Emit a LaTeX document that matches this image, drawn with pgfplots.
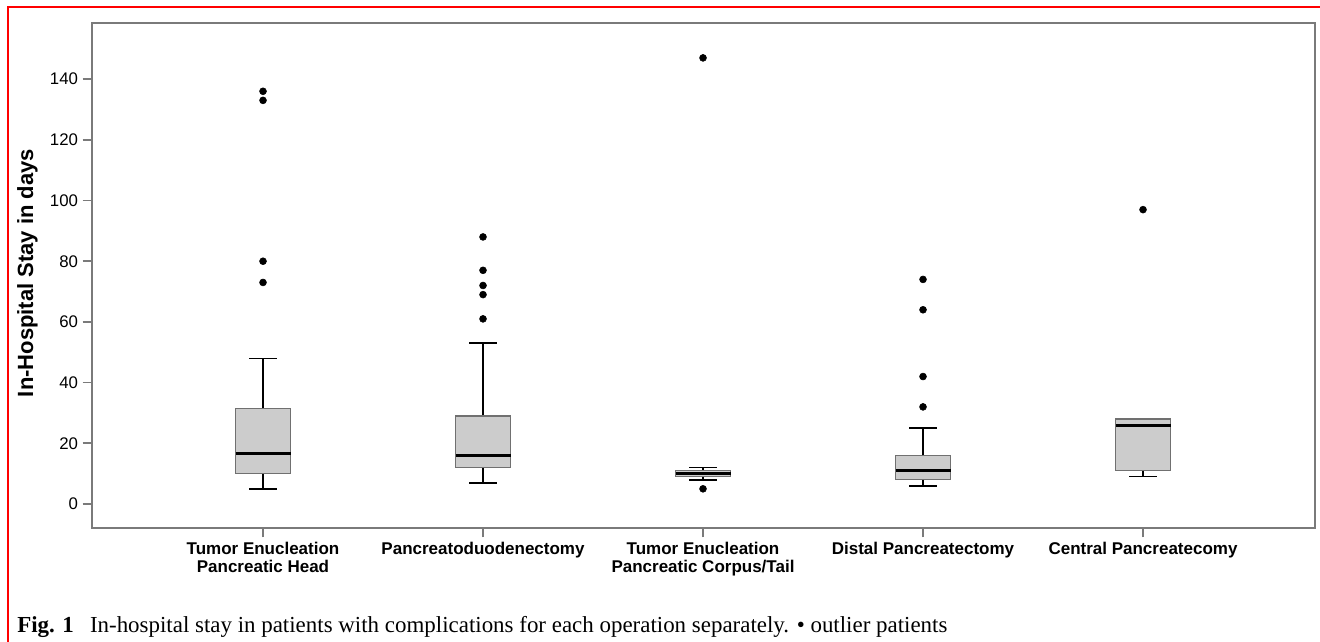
\documentclass[border=0pt]{standalone}
\usepackage{pgfplots}
\pgfplotsset{compat=1.18}
\usepgfplotslibrary{statistics}
\usepackage{fontspec}
\setmainfont{Liberation Serif}
\setsansfont{Liberation Sans}
\definecolor{boxfill}{HTML}{CCCCCC}
\definecolor{boxedge}{HTML}{707070}
\definecolor{axgray}{HTML}{7A7A7A}
\begin{document}
\begin{tikzpicture}
\path[use as bounding box] (0,0) rectangle (990pt,481.5pt);
\fill[white] (0,0) rectangle (990pt,481.5pt);
\draw[red, line width=1.6pt] (6pt,0) -- (6pt,476.25pt) -- (990pt,476.25pt);
\begin{axis}[
  at={(69pt,85.5pt)}, anchor=south west,
  scale only axis, width=917.25pt, height=378.75pt,
  xmin=-0.7773, xmax=4.7818,
  ymin=-7.91, ymax=158.5,
  axis line style={axgray, line width=1.5pt},
  xtick={0,1,2,3,4},
  xticklabels={{Tumor Enucleation\\Pancreatic Head},{Pancreatoduodenectomy},{Tumor Enucleation\\Pancreatic Corpus/Tail},{Distal Pancreatectomy},{Central Pancreatecomy}},
  xticklabel style={align=center, font=\sffamily\bfseries\fontsize{12.75}{13.5}\selectfont},
  ytick={0,20,40,60,80,100,120,140},
  yticklabel style={font=\sffamily\fontsize{12.6}{14}\selectfont},
  /pgf/number format/assume math mode=true,
  tick align=outside,
  xtick pos=bottom, ytick pos=left,
  major tick length=7pt,
  tick style={axgray, line width=1.2pt},
  boxplot/draw direction=y,
  boxplot/every box/.style={draw=boxedge, fill=boxfill, line width=1.1pt},
  boxplot/every whisker/.style={black, line width=1.2pt},
  boxplot/every median/.style={black, line width=2.2pt},
]
\addplot[mark=*, mark size=2.6pt, black, mark options={fill=black},
  boxplot prepared={draw position=0, lower whisker=5, lower quartile=10, median=16.5, upper quartile=31.5, upper whisker=48, box extend=0.25, whisker extend=0.125}]
  coordinates {(0,136) (0,133) (0,80) (0,73)};
\addplot[mark=*, mark size=2.6pt, black, mark options={fill=black},
  boxplot prepared={draw position=1, lower whisker=7, lower quartile=12, median=16, upper quartile=29, upper whisker=53, box extend=0.25, whisker extend=0.125}]
  coordinates {(1,88) (1,77) (1,72) (1,69) (1,61)};
\addplot[mark=*, mark size=2.6pt, black, mark options={fill=black},
  boxplot prepared={draw position=2, lower whisker=8, lower quartile=9, median=10, upper quartile=11, upper whisker=12, box extend=0.25, whisker extend=0.125}]
  coordinates {(2,147) (2,5)};
\addplot[mark=*, mark size=2.6pt, black, mark options={fill=black},
  boxplot prepared={draw position=3, lower whisker=6, lower quartile=8, median=11, upper quartile=16, upper whisker=25, box extend=0.25, whisker extend=0.125}]
  coordinates {(3,74) (3,64) (3,42) (3,32)};
\addplot[mark=*, mark size=2.6pt, black, mark options={fill=black},
  boxplot prepared={draw position=4, lower whisker=9, lower quartile=11, median=26, upper quartile=28, upper whisker=28, box extend=0.25, whisker extend=0.125}]
  coordinates {(4,97)};
\end{axis}
\node[rotate=90, font=\sffamily\bfseries\fontsize{16.5}{18}\selectfont] at (20.5pt,276.75pt) {In-Hospital Stay in days};
\node[anchor=base west, inner sep=0pt, font=\fontsize{17.2}{19}\selectfont] at (12.75pt,6.75pt) {\textbf{Fig. 1}\hspace{0.7em}In-hospital stay in patients with complications for each operation separately. • outlier patients};
\end{tikzpicture}
\end{document}
